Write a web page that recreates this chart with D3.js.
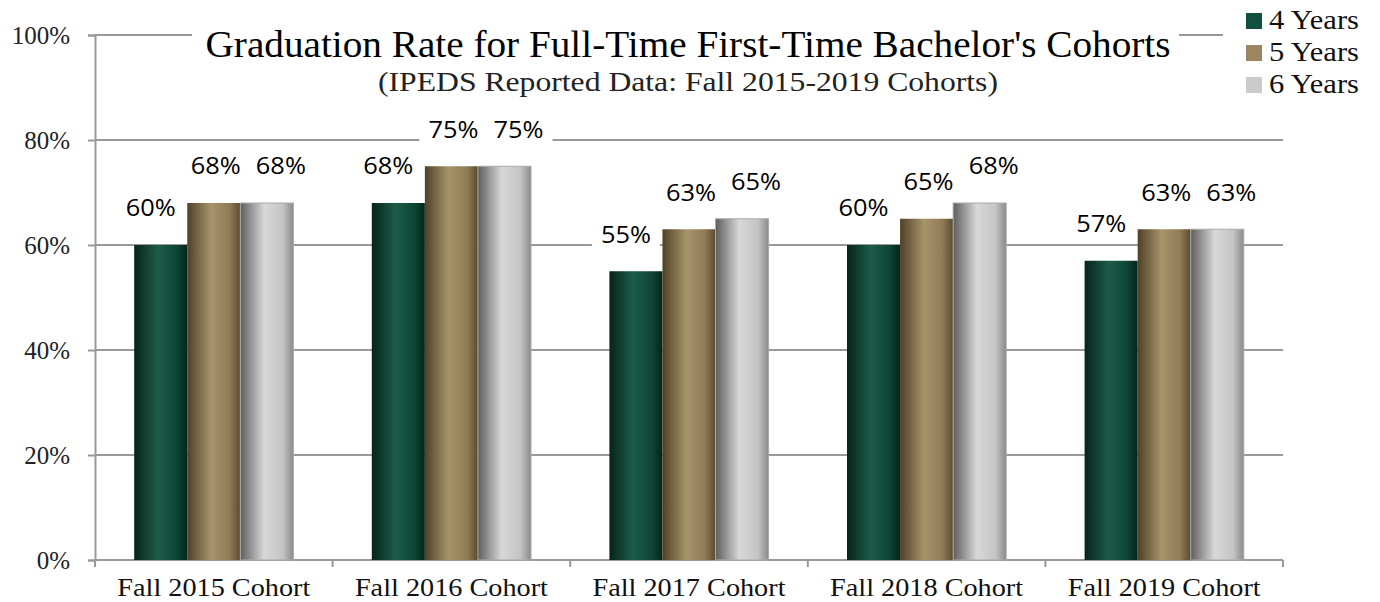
<!DOCTYPE html>
<html lang="en">
<head>
<meta charset="UTF-8">
<title>Graduation Rate</title>
<style>
  body, html { margin: 0; padding: 0; background: #fff; }
  svg { display: block; }
  .serif { font-family: "Liberation Serif", "DejaVu Serif", serif; }
  .sans { font-family: "Open Sans", "Noto Sans", sans-serif; }
</style>
</head>
<body>
<div id="chart"></div>
<script src="https://d3js.org/d3.v7.min.js"></script>
<script>
// data
const cohorts = ["Fall 2015 Cohort", "Fall 2016 Cohort", "Fall 2017 Cohort", "Fall 2018 Cohort", "Fall 2019 Cohort"];
const seriesNames = ["4 Years", "5 Years", "6 Years"];
const fourYears = [60, 68, 55, 60, 57];
const fiveYears = [68, 75, 63, 65, 63];
const sixYears = [68, 75, 65, 68, 63];
const yTicks = [0, 20, 40, 60, 80, 100];

const series = [fourYears, fiveYears, sixYears];

const W = 1380, H = 602;
const margin = { top: 35, right: 97, bottom: 42, left: 95 };

const svg = d3.select("#chart").append("svg")
    .attr("width", W)
    .attr("height", H);

// gradients for the cylinder look
const defs = svg.append("defs");
const grads = [
    ["#06241b", "#1d5c48", "#0e4535", "#06241b"],
    ["#4f4128", "#a8946a", "#8f7b55", "#5a4a2e"],
    ["#5e5e5e", "#d8d8d8", "#c4c4c4", "#8a8a8a"]
];
grads.forEach((c, i) => {
    const g = defs.append("linearGradient")
        .attr("id", "g" + i)
        .attr("x1", "0%").attr("x2", "100%").attr("y1", "0%").attr("y2", "0%");
    g.append("stop").attr("offset", "0%").attr("stop-color", c[0]);
    g.append("stop").attr("offset", "45%").attr("stop-color", c[1]);
    g.append("stop").attr("offset", "80%").attr("stop-color", c[2]);
    g.append("stop").attr("offset", "100%").attr("stop-color", c[3]);
});
const legendColors = ["#11503f", "#9c8660", "#cbcbcb"];

const x0 = d3.scaleBand()
    .domain(cohorts)
    .range([margin.left, W - margin.right])
    .paddingInner(0.33)
    .paddingOuter(0.165);

const x1 = d3.scaleBand()
    .domain(d3.range(seriesNames.length))
    .range([0, x0.bandwidth()]);

const y = d3.scaleLinear()
    .domain([0, 100])
    .range([H - margin.bottom, margin.top]);

// gridlines
svg.append("g")
    .selectAll("line")
    .data(yTicks.filter(d => d > 0))
    .join("line")
    .attr("x1", margin.left)
    .attr("x2", W - margin.right)
    .attr("y1", d => y(d))
    .attr("y2", d => y(d))
    .attr("stroke", "#999")
    .attr("stroke-width", 2);

// y axis
const yAxis = svg.append("g")
    .attr("transform", `translate(${margin.left},0)`)
    .call(d3.axisLeft(y).tickValues(yTicks).tickFormat(d => d + "%").tickSize(7).tickPadding(18));
yAxis.select(".domain").attr("stroke", "#999").attr("stroke-width", 2);
yAxis.selectAll(".tick line").attr("stroke", "#999").attr("stroke-width", 2);
yAxis.selectAll("text")
    .attr("class", "serif")
    .attr("font-size", 25)
    .attr("fill", "#222");

// x axis
const bandStep = x0.step();
const xEdges = d3.range(cohorts.length + 1).map(i => margin.left + i * bandStep);
const xAxis = svg.append("g")
    .attr("transform", `translate(0,${H - margin.bottom})`);
xAxis.append("line")
    .attr("x1", margin.left).attr("x2", W - margin.right)
    .attr("stroke", "#999").attr("stroke-width", 2);
xAxis.selectAll(".edge")
    .data(xEdges)
    .join("line")
    .attr("class", "edge")
    .attr("x1", d => d).attr("x2", d => d)
    .attr("y1", 0).attr("y2", 7)
    .attr("stroke", "#999").attr("stroke-width", 2);
xAxis.selectAll("text")
    .data(cohorts)
    .join("text")
    .attr("class", "serif")
    .attr("x", d => x0(d) + x0.bandwidth() / 2)
    .attr("y", 36)
    .attr("text-anchor", "middle")
    .attr("font-size", 25)
    .attr("textLength", 193)
    .attr("lengthAdjust", "spacingAndGlyphs")
    .attr("fill", "#111")
    .text(d => d);

// bars
const groups = svg.append("g")
    .selectAll("g")
    .data(cohorts)
    .join("g")
    .attr("transform", d => `translate(${x0(d)},0)`);

groups.selectAll("rect")
    .data((d, i) => series.map((s, k) => ({ k, v: s[i] })))
    .join("rect")
    .attr("x", d => x1(d.k))
    .attr("width", x1.bandwidth())
    .attr("y", d => y(d.v))
    .attr("height", d => y(0) - y(d.v))
    .attr("fill", d => `url(#g${d.k})`)
    .attr("stroke", d => d.k === 2 ? "#aaa" : "none")
    .attr("stroke-width", 1);

// value labels with white boxes
const labelShift = [-10, 2, 14];
const labels = groups.selectAll("g.lab")
    .data((d, i) => series.map((s, k) => ({ k, v: s[i] })))
    .join("g")
    .attr("class", "lab")
    .attr("transform", d => `translate(${x1(d.k) + x1.bandwidth() / 2 + labelShift[d.k]},${y(d.v) - 37})`);
labels.append("rect")
    .attr("x", -34).attr("y", -17)
    .attr("width", 68).attr("height", 34)
    .attr("fill", "#fff");
labels.append("text")
    .attr("class", "sans")
    .attr("text-anchor", "middle")
    .attr("dy", "0.36em")
    .attr("font-size", 23)
    .attr("textLength", 50)
    .attr("lengthAdjust", "spacingAndGlyphs")
    .attr("fill", "#000")
    .text(d => d.v + "%");

// title with white box
const cx = 688;
svg.append("rect")
    .attr("x", 192).attr("y", 18)
    .attr("width", 987).attr("height", 82)
    .attr("fill", "#fff");
svg.append("text")
    .attr("class", "serif")
    .attr("x", cx).attr("y", 57)
    .attr("text-anchor", "middle")
    .attr("font-size", 37)
    .attr("textLength", 965)
    .attr("lengthAdjust", "spacingAndGlyphs")
    .attr("fill", "#000")
    .text("Graduation Rate for Full-Time First-Time Bachelor's Cohorts");
svg.append("text")
    .attr("class", "serif")
    .attr("x", cx).attr("y", 91)
    .attr("text-anchor", "middle")
    .attr("font-size", 27)
    .attr("textLength", 620)
    .attr("lengthAdjust", "spacingAndGlyphs")
    .attr("fill", "#222")
    .text("(IPEDS Reported Data: Fall 2015-2019 Cohorts)");

// legend
const legend = svg.append("g").attr("transform", "translate(1223,0)");
legend.append("rect")
    .attr("x", 0).attr("y", 0)
    .attr("width", 157).attr("height", 104)
    .attr("fill", "#fff");
const li = legend.selectAll("g.li")
    .data(seriesNames)
    .join("g")
    .attr("class", "li")
    .attr("transform", (d, i) => `translate(23,${13 + i * 32})`);
li.append("rect")
    .attr("width", 16).attr("height", 16)
    .attr("fill", (d, i) => legendColors[i]);
li.append("text")
    .attr("class", "serif")
    .attr("x", 23).attr("y", 16)
    .attr("font-size", 27)
    .attr("textLength", 90)
    .attr("lengthAdjust", "spacingAndGlyphs")
    .attr("fill", "#111")
    .text(d => d);
</script>
</body>
</html>
